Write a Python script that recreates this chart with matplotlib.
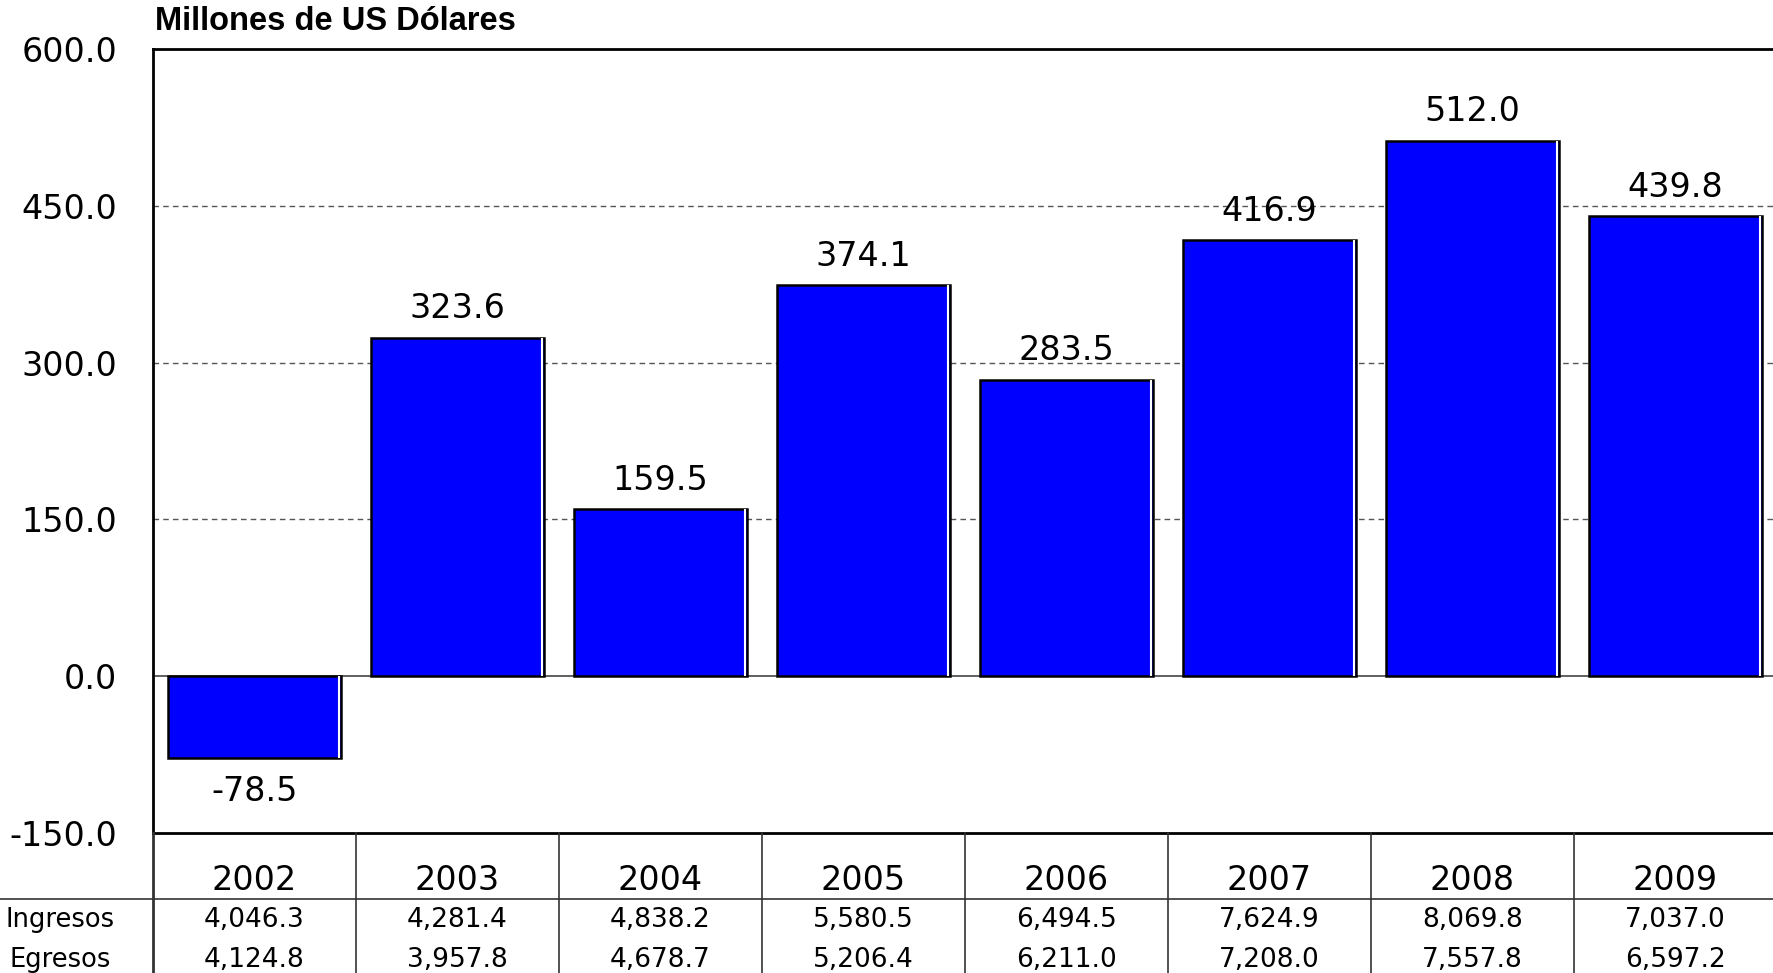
import matplotlib
matplotlib.use('Agg')
from matplotlib import pyplot as plt
from matplotlib.transforms import blended_transform_factory
from matplotlib.lines import Line2D

years = ['2002', '2003', '2004', '2005', '2006', '2007', '2008', '2009']
saldo = [-78.5, 323.6, 159.5, 374.1, 283.5, 416.9, 512.0, 439.8]
ingresos = ['4,046.3', '4,281.4', '4,838.2', '5,580.5', '6,494.5', '7,624.9', '8,069.8', '7,037.0']
egresos = ['4,124.8', '3,957.8', '4,678.7', '5,206.4', '6,211.0', '7,208.0', '7,557.8', '6,597.2']
yticks = [-150, 0, 150, 300, 450, 600]

plt.rcParams['font.family'] = ['DejaVu Sans']

W, H = 1773, 973
fig = plt.figure(figsize=(W / 100, H / 100), dpi=100)

# axes box in pixels (left, top, right, bottom)
l, t, r, b = 153, 49, 1777, 833
ax = fig.add_axes([l / W, 1 - b / H, (r - l) / W, (b - t) / H])

x = list(range(len(years)))
bw = 0.85
ax.bar(x, saldo, width=bw, color='#0000FF', edgecolor='black', linewidth=1.8, zorder=3)
# thin white highlight just inside the right edge of each bar
ax.vlines([i + bw / 2 - 0.008 for i in x], 0, saldo, color='white', linewidth=1.5, zorder=4)

ax.set_xlim(-0.5, len(years) - 0.5)
ax.set_ylim(-150, 600)
ax.set_yticks(yticks)
ax.set_yticklabels([f'{v:.1f}' for v in yticks], fontsize=24)
ax.tick_params(axis='y', length=0, pad=26)
ax.set_xticks([])

for v in (150, 300, 450):
    ax.axhline(v, color='#555555', linestyle=(0, (4, 3)), linewidth=1, zorder=1)
ax.axhline(0, color='#444444', linewidth=1.2, zorder=2)

for s in ax.spines.values():
    s.set_linewidth(2)
ax.spines['right'].set_visible(False)

for i, v in enumerate(saldo):
    if v >= 0:
        ax.annotate(f'{v:.1f}', (i, v), xytext=(0, 9), textcoords='offset points',
                    ha='center', va='bottom', fontsize=24, zorder=5)
    else:
        ax.annotate(f'{v:.1f}', (i, v), xytext=(0, -12), textcoords='offset points',
                    ha='center', va='top', fontsize=24, zorder=5)

fig.text(155 / W, 1 - 22 / H, 'Millones de US Dólares', fontsize=23.5, fontweight='bold',
         ha='left', va='center', family='Liberation Sans')

# data table below the chart
tr = blended_transform_factory(ax.transData, fig.transFigure)
for i in range(len(years) + 1):
    fig.add_artist(Line2D([i - 0.5, i - 0.5], [0, 1 - b / H], transform=tr,
                          color='#333333', linewidth=1.2 if i else 2))
fig.add_artist(Line2D([0, 1], [1 - 899 / H, 1 - 899 / H], transform=fig.transFigure,
                      color='#333333', linewidth=1.2))
for i in x:
    ax.text(i, 1 - 880 / H, years[i], transform=tr, ha='center', va='center', fontsize=24)
    ax.text(i, 1 - 920 / H, ingresos[i], transform=tr, ha='center', va='center', fontsize=19)
    ax.text(i, 1 - 960 / H, egresos[i], transform=tr, ha='center', va='center', fontsize=19)
fig.text(60 / W, 1 - 920 / H, 'Ingresos', ha='center', va='center', fontsize=18.5)
fig.text(60 / W, 1 - 960 / H, 'Egresos', ha='center', va='center', fontsize=18.5)

fig.savefig('out.png', dpi=100)
